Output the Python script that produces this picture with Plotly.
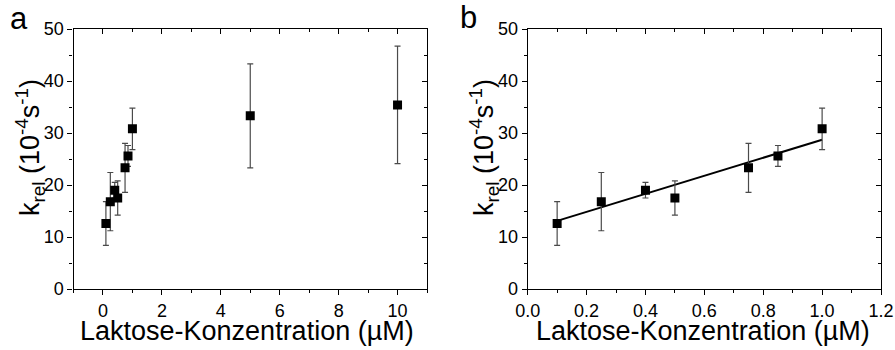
import plotly.graph_objects as go

# ---- data ----
conc_a = [0.1, 0.25, 0.4, 0.5, 0.75, 0.85, 1.0, 5.0, 10.0]
krel_a = [12.6, 16.8, 19.0, 17.5, 23.3, 25.6, 30.8, 33.3, 35.4]
err_a = [4.2, 5.6, 1.5, 3.3, 4.7, 2.0, 4.0, 10.0, 11.3]

conc_b = [0.1, 0.25, 0.4, 0.5, 0.75, 0.85, 1.0]
krel_b = [12.6, 16.8, 19.0, 17.5, 23.3, 25.6, 30.8]
err_b = [4.2, 5.6, 1.5, 3.3, 4.7, 2.0, 4.0]

fit_x = [0.1, 1.0]
fit_y = [13.1, 28.7]

FONT = "Liberation Sans, Arial, sans-serif"
W, H = 895, 350

fig = go.Figure()

marker = dict(symbol="square", size=9, color="black")
errstyle = dict(type="data", color="#4a4a4a", thickness=1.2, width=3)

fig.add_trace(go.Scatter(x=conc_a, y=krel_a, mode="markers", marker=marker,
                         error_y=dict(array=err_a, **errstyle),
                         xaxis="x", yaxis="y", showlegend=False))
fig.add_trace(go.Scatter(x=fit_x, y=fit_y, mode="lines",
                         line=dict(color="black", width=2),
                         xaxis="x2", yaxis="y2", showlegend=False))
fig.add_trace(go.Scatter(x=conc_b, y=krel_b, mode="markers", marker=marker,
                         error_y=dict(array=err_b, **errstyle),
                         xaxis="x2", yaxis="y2", showlegend=False))

ydom = [1 - 289 / H, 1 - 29 / H]
xdom_a = [73.5 / W, 427 / W]
xdom_b = [527.7 / W, 881 / W]

tickfont = dict(family=FONT, size=18, color="black")

def xaxis(domain, rng, dtick, mdtick, anchor):
    return dict(domain=domain, range=rng, dtick=dtick, tick0=0, anchor=anchor,
                showline=True, linecolor="black", linewidth=1.3, mirror=True,
                ticks="outside", ticklen=5, tickwidth=1.2, tickcolor="black",
                minor=dict(dtick=mdtick, tick0=0, ticks="outside", ticklen=3,
                           tickwidth=1.2, tickcolor="black"),
                showgrid=False, zeroline=False, tickfont=tickfont,
                automargin=False, fixedrange=True)

def yaxis(anchor):
    return dict(domain=ydom, range=[0, 50], dtick=10, tick0=0, anchor=anchor,
                showline=True, linecolor="black", linewidth=1.3, mirror=True,
                ticks="outside", ticklen=5, tickwidth=1.2, tickcolor="black",
                minor=dict(dtick=5, tick0=0, ticks="outside", ticklen=3,
                           tickwidth=1.2, tickcolor="black"),
                showgrid=False, zeroline=False, tickfont=tickfont,
                automargin=False, fixedrange=True)

def xtop(overlay, rng, dtick, mdtick, anchor):
    return dict(overlaying=overlay, side="top", anchor=anchor, range=rng,
                dtick=dtick, tick0=0, showticklabels=False, showline=False,
                ticks="inside", ticklen=5, tickwidth=1.2, tickcolor="black",
                minor=dict(dtick=mdtick, tick0=0, ticks="inside", ticklen=3,
                           tickwidth=1.2, tickcolor="black"),
                showgrid=False, zeroline=False, automargin=False, fixedrange=True)

def yright(overlay, anchor):
    return dict(overlaying=overlay, side="right", anchor=anchor, range=[0, 50],
                dtick=10, tick0=0, showticklabels=False, showline=False,
                ticks="inside", ticklen=5, tickwidth=1.2, tickcolor="black",
                minor=dict(dtick=5, tick0=0, ticks="inside", ticklen=3,
                           tickwidth=1.2, tickcolor="black"),
                showgrid=False, zeroline=False, automargin=False, fixedrange=True)

fig.update_layout(
    width=W, height=H,
    margin=dict(l=0, r=0, t=0, b=0),
    paper_bgcolor="white", plot_bgcolor="white",
    font=dict(family=FONT, color="black"),
    xaxis=xaxis(xdom_a, [-1, 11], 2, 1, "y"),
    yaxis=yaxis("x"),
    xaxis2=xaxis(xdom_b, [0, 1.2], 0.2, 0.1, "y2"),
    yaxis2=yaxis("x2"),
    xaxis3=xtop("x", [-1, 11], 2, 1, "y"),
    yaxis3=yright("y", "x"),
    xaxis4=xtop("x2", [0, 1.2], 0.2, 0.1, "y2"),
    yaxis4=yright("y2", "x2"),
)
fig.layout.xaxis2.tickformat = ".1f"

# dummy traces to activate overlay axes
for xa, ya in [("x3", "y"), ("x", "y3"), ("x4", "y2"), ("x2", "y4")]:
    fig.add_trace(go.Scatter(x=[None], y=[None], xaxis=xa, yaxis=ya,
                             showlegend=False, hoverinfo="skip"))

titlefont = dict(family=FONT, size=27, color="black")
xtitle = "Laktose-Konzentration (µM)"
ytitle = "k<sub>rel</sub> (10<sup>-4</sup>s<sup>-1</sup>)"

ann = []
ann.append(dict(text=xtitle, x=247 / W, y=1 - 331 / H, xref="paper", yref="paper",
                xanchor="center", yanchor="middle", showarrow=False, font=titlefont))
ann.append(dict(text=xtitle, x=703 / W, y=1 - 331 / H, xref="paper", yref="paper",
                xanchor="center", yanchor="middle", showarrow=False, font=titlefont))
ann.append(dict(text=ytitle, x=30 / W, y=1 - 148 / H, xref="paper", yref="paper",
                xanchor="center", yanchor="middle", textangle=-90, showarrow=False,
                font=titlefont))
ann.append(dict(text=ytitle, x=484 / W, y=1 - 148 / H, xref="paper", yref="paper",
                xanchor="center", yanchor="middle", textangle=-90, showarrow=False,
                font=titlefont))
ann.append(dict(text="a", x=18.5 / W, y=1 - 19 / H, xref="paper", yref="paper",
                xanchor="center", yanchor="middle", showarrow=False,
                font=dict(family=FONT, size=31, color="black")))
ann.append(dict(text="b", x=468 / W, y=1 - 17 / H, xref="paper", yref="paper",
                xanchor="center", yanchor="middle", showarrow=False,
                font=dict(family=FONT, size=31, color="black")))
fig.update_layout(annotations=ann)

fig.write_html("out.html", config={"displayModeBar": False},
               post_script="document.body.style.margin='0';document.body.style.overflow='hidden';")
